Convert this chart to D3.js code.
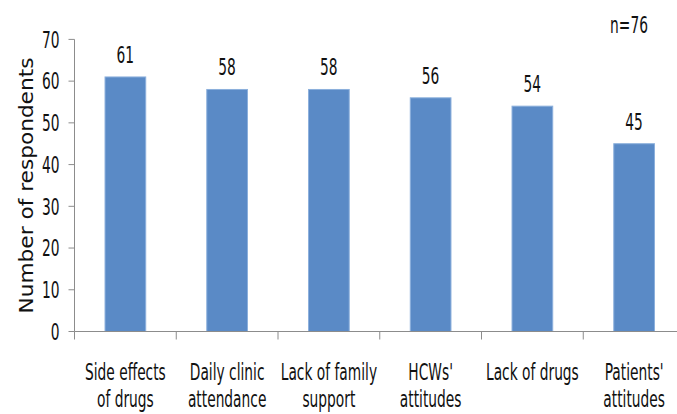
<!DOCTYPE html>
<html>
<head>
<meta charset="utf-8">
<script src="https://cdn.jsdelivr.net/npm/d3@7"></script>
<style>
  html, body { margin: 0; padding: 0; background: #fff; }
  svg text { font-family: "DejaVu Sans", Verdana, sans-serif; fill: #111; }
</style>
</head>
<body>
<svg id="chart" width="677" height="414"></svg>
<script>
// ---- data ----
const categories = [
  ["Side effects", "of drugs"],
  ["Daily clinic", "attendance"],
  ["Lack of family", "support"],
  ["HCWs'", "attitudes"],
  ["Lack of drugs"],
  ["Patients'", "attitudes"]
];
const values = [61, 58, 58, 56, 54, 45];
const yTicks = [0, 10, 20, 30, 40, 50, 60, 70];
const yTitle = "Number of respondents";
const note = "n=76";

// ---- layout ----
const W = 677, H = 414;
const mLeft = 74.5, mRight = 685, mTop = 39.4, mBottom = 331.5;
const SX = 0.6;           // horizontal condensation of text
const FS = 23;
const axisColor = "#8c8c8c";

const svg = d3.select("#chart");

const x = d3.scaleBand()
  .domain(d3.range(categories.length))
  .range([mLeft, mRight])
  .paddingInner(0.6)
  .paddingOuter(0.3);

const y = d3.scaleLinear().domain([0, 70]).range([mBottom, mTop]);

// bars
svg.append("g").selectAll("rect")
  .data(values)
  .join("rect")
  .attr("x", (d, i) => x(i))
  .attr("y", d => y(d))
  .attr("width", x.bandwidth())
  .attr("height", d => y(0) - y(d))
  .attr("fill", "#5a8ac6")
  .attr("stroke", "#8cb0dc")
  .attr("stroke-width", 1);

// value labels
svg.append("g").selectAll("text")
  .data(values)
  .join("text")
  .attr("transform", (d, i) => `translate(${x(i) + x.bandwidth() / 2},${y(d) - 14}) scale(${SX},1)`)
  .attr("text-anchor", "middle")
  .attr("font-size", FS)
  .text(d => d);

// y axis
const yAxis = svg.append("g").attr("transform", `translate(${mLeft},0)`);
yAxis.append("line")
  .attr("x1", 0).attr("x2", 0)
  .attr("y1", y(70)).attr("y2", y(0))
  .attr("stroke", axisColor);
const yt = yAxis.selectAll("g.tick").data(yTicks).join("g")
  .attr("class", "tick")
  .attr("transform", d => `translate(0,${y(d)})`);
yt.append("line").attr("x1", -6).attr("x2", 0).attr("stroke", axisColor);
yt.append("text")
  .attr("transform", `translate(-15,0) scale(${SX},1)`)
  .attr("text-anchor", "end")
  .attr("dy", "0.36em")
  .attr("font-size", FS)
  .text(d => d);

// x axis
const xAxis = svg.append("g").attr("transform", `translate(0,${mBottom})`);
xAxis.append("line")
  .attr("x1", mLeft).attr("x2", W)
  .attr("stroke", axisColor);
const boundaries = d3.range(categories.length + 1).map(i => mLeft + i * x.step());
xAxis.selectAll("line.tk").data(boundaries).join("line")
  .attr("class", "tk")
  .attr("x1", d => d).attr("x2", d => d)
  .attr("y1", 0).attr("y2", 8)
  .attr("stroke", axisColor);

// category labels
const cat = svg.append("g").selectAll("g").data(categories).join("g");
cat.each(function(lines, i) {
  const g = d3.select(this);
  lines.forEach((t, j) => {
    g.append("text")
      .attr("transform", `translate(${x(i) + x.bandwidth() / 2},${379.5 + j * 27}) scale(${SX},1)`)
      .attr("text-anchor", "middle")
      .attr("font-size", FS)
      .text(t);
  });
});

// y title
svg.append("text")
  .attr("transform", `translate(33,185.5) rotate(-90) scale(1.14,1)`)
  .attr("text-anchor", "middle")
  .attr("font-size", 19)
  .text(yTitle);

// note
svg.append("text")
  .attr("transform", `translate(629,33) scale(${SX},1)`)
  .attr("text-anchor", "middle")
  .attr("font-size", FS)
  .text(note);
</script>
</body>
</html>
